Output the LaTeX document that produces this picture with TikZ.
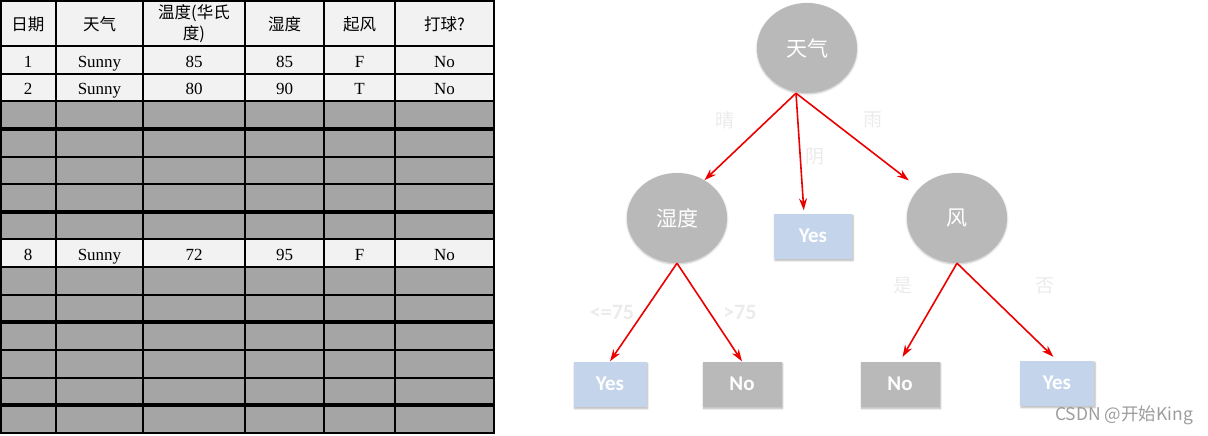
\documentclass[tikz,border=0pt]{standalone}
\usepackage{fontspec}
\setmainfont{Liberation Serif}
\newfontfamily\cjk{Noto Sans CJK SC}
\newfontfamily\calfont{Carlito}
\usetikzlibrary{shapes.geometric,arrows.meta,shadows.blur}

\definecolor{cellwhite}{HTML}{F2F2F2}
\definecolor{cellgray}{HTML}{A5A5A5}
\definecolor{nodegray}{HTML}{B9B9B9}
\definecolor{leafblue}{HTML}{C4D4EA}
\definecolor{faint}{HTML}{EBEBEB}
\definecolor{markgray}{HTML}{9C9C9C}

\begin{document}
\begin{tikzpicture}[x=1pt, y=-1pt, every node/.style={inner sep=0pt},
  cell/.style={font=\fontsize{17}{19}\selectfont, text height=16pt, text depth=1pt},
  hcell/.style={font=\cjk\fontsize{16.5}{21}\selectfont, align=center},
  split/.style={ellipse, fill=nodegray, minimum width=100pt, minimum height=90pt,
    text=white, font=\cjk\fontsize{21}{24}\selectfont,
    blur shadow={shadow xshift=0pt, shadow yshift=-1pt, shadow blur steps=6, shadow opacity=25}},
  leafyes/.style={rectangle, fill=leafblue, minimum width=75pt, minimum height=45pt,
    text=white, font=\calfont\bfseries\fontsize{21}{24}\selectfont,
    blur shadow={shadow xshift=1pt, shadow yshift=-2pt, shadow blur steps=5, shadow opacity=30}},
  leafno/.style={leafyes, fill=nodegray, minimum width=79pt},
  arr/.style={-{Stealth[length=12pt,width=8pt]}, red!92!black, line width=1.6pt},
  elabel/.style={text=faint, font=\cjk\fontsize{19}{22}\selectfont},
  nlabel/.style={text=faint, font=\calfont\bfseries\fontsize{22}{24}\selectfont}]

\useasboundingbox (0,0) rectangle (1208,436);

% ===== Table parameters =====
\def\nRows{14}       % number of data rows
\def\yHead{46}       % bottom of header row
\def\rowH{27.64}     % height of one data row
\def\tabR{494}       % right edge of table
\def\tabB{433}       % bottom edge of table

% ===== Table fills =====
\fill[cellgray] (0,0) rectangle (\tabR,\tabB);
\fill[cellwhite] (0,0) rectangle (\tabR,\yHead);
\foreach \i in {1,2,8} {
    \pgfmathsetmacro\ytop{\yHead+(\i-1)*\rowH}
    \fill[cellwhite] (0,\ytop) rectangle (\tabR,\ytop+\rowH);
}

% ===== Header =====
\foreach \x/\txt [count=\c] in {28/日期, 99.5/天气, 194/{温度(华氏\\度)}, 284.5/湿度, 359.5/起风, 444.5/打球?} {
    \node[hcell] (h\c) at (\x,24) {\txt};
}

% ===== Visible rows =====
\foreach \i/\vals in {1/{1,Sunny,85,85,F,No}, 2/{2,Sunny,80,90,T,No}, 8/{8,Sunny,72,95,F,No}} {
    \pgfmathsetmacro\ymid{\yHead+(\i-0.5)*\rowH}
    \foreach \v [count=\c] in \vals {
        \pgfmathsetmacro\x{{28,99.5,194,284.5,359.5,444.5}[\c-1]}
        \node[cell] (r\i c\c) at (\x,\ymid) {\v};
    }
}

% ===== Grid lines =====
\foreach \x in {1,56,143,245,324,395,\tabR} {
    \draw[line width=2pt] (\x,0) -- (\x,\tabB);
}
\draw[line width=2pt] (0,1) -- (\tabR+1,1);
\draw[line width=2pt] (0,\tabB) -- (\tabR+1,\tabB);
\foreach \i in {0,...,13} {
    \pgfmathsetmacro\y{\yHead+\i*\rowH}
    \draw[line width=2pt] (0,\y) -- (\tabR+1,\y);
}
% thicker separators
\foreach \i in {3,6,10,13} {
    \pgfmathsetmacro\y{\yHead+\i*\rowH}
    \draw[line width=4pt] (0,\y) -- (\tabR+1,\y);
}

% ===== Decision tree =====
\node[split] (tianqi) at (807,48) {天气};
\node[split] (shidu) at (677,218) {湿度};
\node[leafyes, minimum width=78pt] (yesA) at (813,236) {Yes};
\node[split] (feng) at (957,218) {风};

\node[leafyes, minimum width=73pt] (yesB) at (610,384) {Yes};
\node[leafno] (noA) at (742,384) {No};
\node[leafno] (noB) at (900,384) {No};
\node[leafyes, minimum width=74pt] (yesC) at (1057,383) {Yes};

% ===== Branches =====
\draw[arr] ([xshift=-11pt]tianqi.south) -- (shidu.54);
\draw[arr, shorten >=3pt] ([xshift=-11pt]tianqi.south) -- ([xshift=-9pt]yesA.north);
\draw[arr, shorten >=13pt] ([xshift=-11pt]tianqi.south) -- (feng.142);

\draw[arr] (shidu.south) -- (yesB.north);
\draw[arr] (shidu.south) -- (noA.north);
\draw[arr, shorten >=5pt] (feng.south) -- (noB.north);
\draw[arr, shorten >=5pt] (feng.south) -- (yesC.north);

% ===== Branch labels =====
\node[elabel] (qing) at (725,120) {晴};
\node[elabel] (yin) at (815,157) {阴};
\node[elabel] (yu) at (873,120) {雨};
\node[nlabel] (low) at (612,312) {<=75};
\node[nlabel] (high) at (740,312) {>75};
\node[elabel] (shi) at (903,286) {是};
\node[elabel] (fou) at (1045,286) {否};

% watermark
\node[text=markgray, font=\cjk\fontsize{17.5}{20}\selectfont] (mark) at (1124,415) {CSDN @开始King};

\end{tikzpicture}
\end{document}
